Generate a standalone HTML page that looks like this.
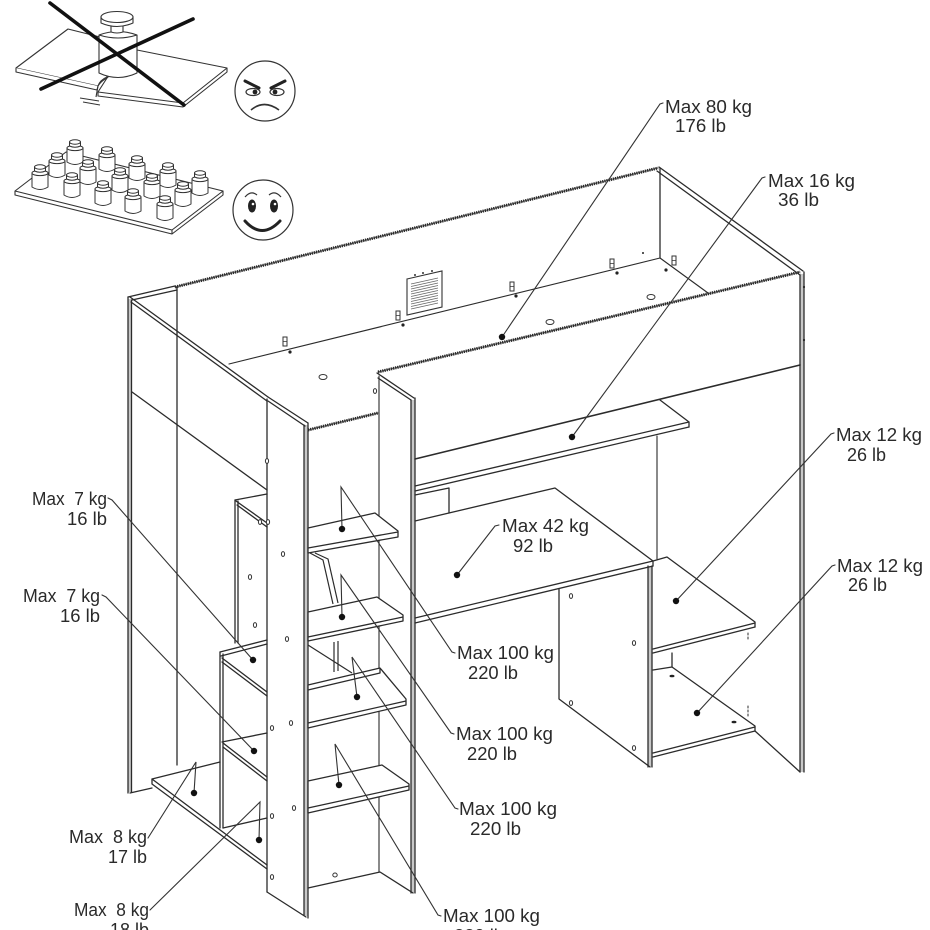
<!DOCTYPE html>
<html>
<head>
<meta charset="utf-8">
<style>
html,body{margin:0;padding:0;background:#fff;}
svg{display:block;}
text{font-family:"Liberation Sans",Arial,sans-serif;font-size:18px;fill:#2a2a2a;}
</style>
</head>
<body>
<svg width="930" height="930" viewBox="0 0 930 930" xmlns="http://www.w3.org/2000/svg">
<rect width="930" height="930" fill="#fff"/>

<!-- ===== Icon 1: overloaded sagging shelf ===== -->
<g fill="#fff" stroke="#333" stroke-width="1.1" stroke-linejoin="round">
  <path d="M16,68 L68,29 L104,38 L107,77 Q100,80 98,86 Z"/>
  <path d="M16,68 L16,72 L97,90 L98,86"/>
  <path d="M137,50 L227,68 L183,103 L98,92 L107,78 Z"/>
  <path d="M227,68 L227,72 L183,107 L98,96 L98,92" fill="none"/>
  <path d="M183,103 L183,107" fill="none"/>
  <path d="M98,86 L96,97" fill="none"/>
  <path d="M80,98 L99,101 M83,102 L100,105" fill="none"/>
  <!-- weight -->
  <path d="M99,35 Q118,28 137,35 L137,73 Q118,82 99,73 Z"/>
  <path d="M99,35 Q118,41 137,35" fill="none"/>
  <path d="M111,25 L111,32 Q117,34 123,32 L123,25 Z"/>
  <path d="M101,17 L101,23 Q117,30 133,23 L133,17"/>
  <ellipse cx="117" cy="17" rx="16" ry="5.5"/>
  <path d="M107,78 Q101,81 98,86" fill="none"/>
</g>
<g stroke="#111" stroke-width="3.6" stroke-linecap="round">
  <line x1="50" y1="3" x2="184" y2="105"/>
  <line x1="193" y1="19" x2="41" y2="89"/>
</g>
<!-- angry face -->
<g fill="none" stroke="#333" stroke-width="1.2">
  <circle cx="265" cy="91" r="30" fill="#fff"/>
  <ellipse cx="253" cy="92" rx="7" ry="3.5"/>
  <ellipse cx="277" cy="92" rx="7" ry="3.5"/>
  <path d="M251,110 Q264,99 279,110" stroke-width="1.6"/>
</g>
<g stroke="#222" stroke-width="3" stroke-linecap="round">
  <line x1="245" y1="81" x2="259" y2="88"/>
  <line x1="271" y1="88" x2="285" y2="81"/>
</g>
<circle cx="255" cy="92" r="2.4" fill="#222"/>
<circle cx="275" cy="92" r="2.4" fill="#222"/>

<!-- ===== Icon 2: evenly loaded shelf ===== -->
<g fill="#fff" stroke="#333" stroke-width="1.1" stroke-linejoin="round">
  <path d="M15,191 L66,152 L223,191 L172,230 Z"/>
  <path d="M15,191 L15,195 L172,234 L223,195 L223,191" fill="none"/>
  <path d="M172,230 L172,234" fill="none"/>
</g>
<g fill="#fff" stroke="#333" stroke-width="1">
  <g transform="translate(75,139)"><path d="M-8,9 L-8,23 Q0,28 8,23 L8,9 Z"/><ellipse cx="0" cy="9" rx="8" ry="2.6"/><path d="M-5.5,3 L-5.5,7 Q0,9.5 5.5,7 L5.5,3 Z"/><ellipse cx="0" cy="3" rx="5.5" ry="2.2"/></g>
  <g transform="translate(107,146)"><path d="M-8,9 L-8,23 Q0,28 8,23 L8,9 Z"/><ellipse cx="0" cy="9" rx="8" ry="2.6"/><path d="M-5.5,3 L-5.5,7 Q0,9.5 5.5,7 L5.5,3 Z"/><ellipse cx="0" cy="3" rx="5.5" ry="2.2"/></g>
  <g transform="translate(57,152)"><path d="M-8,9 L-8,23 Q0,28 8,23 L8,9 Z"/><ellipse cx="0" cy="9" rx="8" ry="2.6"/><path d="M-5.5,3 L-5.5,7 Q0,9.5 5.5,7 L5.5,3 Z"/><ellipse cx="0" cy="3" rx="5.5" ry="2.2"/></g>
  <g transform="translate(137,155)"><path d="M-8,9 L-8,23 Q0,28 8,23 L8,9 Z"/><ellipse cx="0" cy="9" rx="8" ry="2.6"/><path d="M-5.5,3 L-5.5,7 Q0,9.5 5.5,7 L5.5,3 Z"/><ellipse cx="0" cy="3" rx="5.5" ry="2.2"/></g>
  <g transform="translate(88,159)"><path d="M-8,9 L-8,23 Q0,28 8,23 L8,9 Z"/><ellipse cx="0" cy="9" rx="8" ry="2.6"/><path d="M-5.5,3 L-5.5,7 Q0,9.5 5.5,7 L5.5,3 Z"/><ellipse cx="0" cy="3" rx="5.5" ry="2.2"/></g>
  <g transform="translate(168,162)"><path d="M-8,9 L-8,23 Q0,28 8,23 L8,9 Z"/><ellipse cx="0" cy="9" rx="8" ry="2.6"/><path d="M-5.5,3 L-5.5,7 Q0,9.5 5.5,7 L5.5,3 Z"/><ellipse cx="0" cy="3" rx="5.5" ry="2.2"/></g>
  <g transform="translate(40,164)"><path d="M-8,9 L-8,23 Q0,28 8,23 L8,9 Z"/><ellipse cx="0" cy="9" rx="8" ry="2.6"/><path d="M-5.5,3 L-5.5,7 Q0,9.5 5.5,7 L5.5,3 Z"/><ellipse cx="0" cy="3" rx="5.5" ry="2.2"/></g>
  <g transform="translate(120,167)"><path d="M-8,9 L-8,23 Q0,28 8,23 L8,9 Z"/><ellipse cx="0" cy="9" rx="8" ry="2.6"/><path d="M-5.5,3 L-5.5,7 Q0,9.5 5.5,7 L5.5,3 Z"/><ellipse cx="0" cy="3" rx="5.5" ry="2.2"/></g>
  <g transform="translate(200,170)"><path d="M-8,9 L-8,23 Q0,28 8,23 L8,9 Z"/><ellipse cx="0" cy="9" rx="8" ry="2.6"/><path d="M-5.5,3 L-5.5,7 Q0,9.5 5.5,7 L5.5,3 Z"/><ellipse cx="0" cy="3" rx="5.5" ry="2.2"/></g>
  <g transform="translate(72,172)"><path d="M-8,9 L-8,23 Q0,28 8,23 L8,9 Z"/><ellipse cx="0" cy="9" rx="8" ry="2.6"/><path d="M-5.5,3 L-5.5,7 Q0,9.5 5.5,7 L5.5,3 Z"/><ellipse cx="0" cy="3" rx="5.5" ry="2.2"/></g>
  <g transform="translate(152,173)"><path d="M-8,9 L-8,23 Q0,28 8,23 L8,9 Z"/><ellipse cx="0" cy="9" rx="8" ry="2.6"/><path d="M-5.5,3 L-5.5,7 Q0,9.5 5.5,7 L5.5,3 Z"/><ellipse cx="0" cy="3" rx="5.5" ry="2.2"/></g>
  <g transform="translate(103,180)"><path d="M-8,9 L-8,23 Q0,28 8,23 L8,9 Z"/><ellipse cx="0" cy="9" rx="8" ry="2.6"/><path d="M-5.5,3 L-5.5,7 Q0,9.5 5.5,7 L5.5,3 Z"/><ellipse cx="0" cy="3" rx="5.5" ry="2.2"/></g>
  <g transform="translate(183,181)"><path d="M-8,9 L-8,23 Q0,28 8,23 L8,9 Z"/><ellipse cx="0" cy="9" rx="8" ry="2.6"/><path d="M-5.5,3 L-5.5,7 Q0,9.5 5.5,7 L5.5,3 Z"/><ellipse cx="0" cy="3" rx="5.5" ry="2.2"/></g>
  <g transform="translate(133,188)"><path d="M-8,9 L-8,23 Q0,28 8,23 L8,9 Z"/><ellipse cx="0" cy="9" rx="8" ry="2.6"/><path d="M-5.5,3 L-5.5,7 Q0,9.5 5.5,7 L5.5,3 Z"/><ellipse cx="0" cy="3" rx="5.5" ry="2.2"/></g>
  <g transform="translate(165,195)"><path d="M-8,9 L-8,23 Q0,28 8,23 L8,9 Z"/><ellipse cx="0" cy="9" rx="8" ry="2.6"/><path d="M-5.5,3 L-5.5,7 Q0,9.5 5.5,7 L5.5,3 Z"/><ellipse cx="0" cy="3" rx="5.5" ry="2.2"/></g>
</g>
<!-- happy face -->
<g fill="none" stroke="#333" stroke-width="1.2">
  <circle cx="263" cy="210" r="30" fill="#fff"/>
  <path d="M245,197 Q251,190 257,195"/>
  <path d="M269,195 Q275,190 281,197"/>
</g>
<ellipse cx="252" cy="206" rx="4" ry="6.5" fill="#222"/>
<ellipse cx="274" cy="206" rx="4" ry="6.5" fill="#222"/>
<circle cx="253" cy="204" r="1.3" fill="#fff"/>
<circle cx="275" cy="204" r="1.3" fill="#fff"/>
<path d="M245,221 Q262,240 280,221" fill="none" stroke="#222" stroke-width="3" stroke-linecap="round"/>

<!-- ===== Main furniture ===== -->
<!-- gray fills between double edges -->
<g fill="#c8c8c8" stroke="none">
  <rect x="128" y="299" width="3.5" height="493"/>
  <rect x="800" y="274" width="4" height="498"/>
  <rect x="304" y="425" width="4" height="491"/>
  <rect x="411" y="400" width="4" height="493"/>
  <rect x="648" y="566" width="4" height="201"/>
</g>
<g fill="none" stroke="#2b2b2b" stroke-width="1.3" stroke-linecap="round" stroke-linejoin="round">
  <!-- left end panel -->
  <line x1="128" y1="297" x2="128" y2="793"/>
  <line x1="131.5" y1="300" x2="131.5" y2="792"/>
  <path d="M128,297 L175,286"/>
  <path d="M132,300 L177,290"/>
  <path d="M130,297 L268,397"/>
  <path d="M131,302 L267,401"/>
  <line x1="177" y1="287" x2="177" y2="765"/>
  <path d="M132,392 L267,490"/>
  <path d="M130,793 L152,788"/>

  <!-- back / right end panel -->
  <line x1="175" y1="287" x2="658" y2="168" stroke="#555" stroke-width="1"/>
  <line x1="660" y1="168" x2="660" y2="258"/>
  <path d="M659,167 L803,271"/>
  <path d="M657,171 L800,275"/>
  <line x1="800" y1="275" x2="800" y2="772"/>
  <line x1="804" y1="272" x2="804" y2="772"/>

  <!-- deck -->
  <path d="M229,364 L660,258 L708,293" stroke-width="1.1"/>

  <!-- front rail -->
  <line x1="378" y1="372" x2="800" y2="272" stroke="#555" stroke-width="1"/>
  <path d="M415,459 L800,365" stroke-width="1.6"/>

  <!-- right upright -->
  <path d="M377,373 L414,398"/>
  <path d="M378,378 L411,400"/>
  <line x1="379" y1="376" x2="379" y2="872" stroke-width="1.1"/>
  <line x1="411" y1="400" x2="411" y2="893"/>
  <line x1="415" y1="398" x2="415" y2="893"/>
  <path d="M308,888 L380,872 L413,893"/>

  <!-- left post -->
  <path d="M268,397 L308,423"/>
  <path d="M268,401 L305,426"/>
  <line x1="267" y1="399" x2="267" y2="892"/>
  <line x1="304" y1="425" x2="304" y2="915"/>
  <line x1="308" y1="423" x2="308" y2="918"/>
  <path d="M267,892 L306,917"/>
  <line x1="308" y1="430" x2="378" y2="413" stroke="#555" stroke-width="1"/>

  <!-- shelf under bed -->
  <path d="M660,400 L689,422 L689,427"/>
  <path d="M415,486 L689,422"/>
  <path d="M415,491 L689,427"/>
  <path d="M415,495 L449,488 L449,513"/>
  <path d="M415,521 L555,488 L653,561 L653,566"/>
  <path d="M415,618 L653,561"/>
  <path d="M415,623 L653,566"/>
  <line x1="657" y1="436" x2="657" y2="559" stroke-width="1.1"/>

  <!-- pedestal -->
  <path d="M559,589 L559,699 L650,767"/>
  <line x1="648" y1="566" x2="648" y2="767"/>
  <line x1="652" y1="566" x2="652" y2="767"/>

  <!-- right shelves -->
  <path d="M653,561 L667,557 L755,622 L755,627"/>
  <path d="M653,649 L755,623"/>
  <path d="M653,653 L755,627"/>
  <path d="M653,670 L672,667 L672,653"/>
  <path d="M672,667 L755,726 L755,731"/>
  <path d="M653,753 L755,727"/>
  <path d="M653,757 L755,731"/>
  <path d="M755,731 L800,772"/>
  <path d="M748,633 L748,640 M748,706 L748,718" stroke-width="1" stroke-dasharray="2 2"/>

  <!-- upper storage side panel -->
  <line x1="235" y1="500" x2="235" y2="643"/>
  <line x1="238" y1="501" x2="238" y2="643"/>
  <path d="M235,500 L267,494"/>
  <path d="M236,501 L267,523"/>
  <path d="M237,505 L267,527"/>

  <!-- lower storage box -->
  <line x1="220" y1="652" x2="220" y2="828"/>
  <line x1="223" y1="654" x2="223" y2="828"/>
  <path d="M220,652 L267,640"/>
  <path d="M221,656 L267,644"/>
  <path d="M222,658 L267,692"/>
  <path d="M222,662 L267,696"/>
  <path d="M222,742 L267,733"/>
  <path d="M223,743 L267,777"/>
  <path d="M223,747 L267,781"/>
  <path d="M223,828 L267,818"/>

  <!-- bottom shelf -->
  <path d="M220,762 L152,779 L152,784 L267,869"/>
  <path d="M152,779 L267,865"/>
</g>

<!-- hatched top edges -->
<g fill="none" stroke="#2a2a2a" stroke-width="3" stroke-dasharray="1.3 0.9">
  <line x1="175" y1="287" x2="658" y2="168"/>
  <line x1="378" y1="372" x2="800" y2="272"/>
  <line x1="308" y1="430" x2="378" y2="413"/>
</g>

<!-- steps (white filled to occlude) -->
<g fill="#fff" stroke="#2b2b2b" stroke-width="1.3" stroke-linejoin="round">
  <path d="M308,528 L375,513 L398,531 L398,537 L308,553 Z"/>
  <path d="M308,548 L398,532" fill="none"/>
  <path d="M308,612 L377,597 L403,615 L403,621 L308,641 Z"/>
  <path d="M308,637 L403,617" fill="none"/>
  <path d="M308,685 L380,668 L406,699 L406,705 L308,728 Z"/>
  <path d="M308,690 L380,673 L380,668" fill="none"/>
  <path d="M308,723 L406,701" fill="none"/>
  <path d="M308,781 L382,765 L409,784 L409,790 L308,813 Z"/>
  <path d="M308,808 L409,786" fill="none"/>
</g>
<g fill="none" stroke="#2b2b2b" stroke-width="1.2">
  <path d="M310,553 L323,560 L333,604"/>
  <path d="M315,553 L328,559 L338,603"/>
  <line x1="334" y1="642" x2="334" y2="672"/>
  <line x1="338" y1="641" x2="338" y2="671"/>
  <path d="M308,645 L352,673"/>
</g>

<!-- back panel details -->
<g fill="#fff" stroke="#333" stroke-width="1.1">
  <path d="M407,279 L442,271 L442,307 L407,315 Z"/>
</g>
<g stroke="#666" stroke-width="0.8">
  <path d="M411,284 L438,278 M411,286.5 L438,280.5 M411,289 L438,283 M411,291.5 L438,285.5 M411,294 L438,288 M411,296.5 L438,290.5 M411,299 L438,293 M411,301.5 L438,295.5 M411,304 L438,298 M411,306.5 L438,300.5 M411,309 L438,303"/>
</g>
<g fill="#333">
  <circle cx="415" cy="275" r="1"/><circle cx="423" cy="273" r="1"/><circle cx="432" cy="271" r="1"/>
</g>
<!-- brackets -->
<g fill="#fff" stroke="#333" stroke-width="1">
  <rect x="283" y="337" width="4" height="9"/>
  <rect x="396" y="311" width="4" height="9"/>
  <rect x="510" y="282" width="4" height="9"/>
  <rect x="610" y="259" width="4" height="9"/>
  <rect x="672" y="256" width="4" height="9"/>
</g>
<g stroke="#333" stroke-width="0.8">
  <path d="M283,341.5 L287,341.5 M396,315.5 L400,315.5 M510,286.5 L514,286.5 M610,263.5 L614,263.5 M672,260.5 L676,260.5"/>
</g>
<g fill="#222">
  <circle cx="290" cy="352" r="1.6"/>
  <circle cx="403" cy="325" r="1.6"/>
  <circle cx="516" cy="296" r="1.6"/>
  <circle cx="617" cy="273" r="1.6"/>
  <circle cx="666" cy="270" r="1.6"/>
  <circle cx="643" cy="253" r="1"/>
  <circle cx="804" cy="287" r="1.1"/>
  <circle cx="804" cy="340" r="1.1"/>
</g>
<!-- holes -->
<g fill="#fff" stroke="#333" stroke-width="1">
  <ellipse cx="323" cy="377" rx="4" ry="2.5"/>
  <ellipse cx="550" cy="322" rx="4" ry="2.5"/>
  <ellipse cx="651" cy="297" rx="4" ry="2.5"/>
  <ellipse cx="375" cy="391" rx="1.6" ry="2.4"/>
  <ellipse cx="267" cy="461" rx="1.6" ry="2.4"/>
  <ellipse cx="283" cy="554" rx="1.6" ry="2.4"/>
  <ellipse cx="287" cy="639" rx="1.6" ry="2.4"/>
  <ellipse cx="272" cy="728" rx="1.6" ry="2.4"/>
  <ellipse cx="291" cy="723" rx="1.6" ry="2.4"/>
  <ellipse cx="272" cy="816" rx="1.6" ry="2.4"/>
  <ellipse cx="294" cy="808" rx="1.6" ry="2.4"/>
  <ellipse cx="272" cy="877" rx="1.6" ry="2.4"/>
  <ellipse cx="260" cy="522" rx="1.6" ry="2.4"/>
  <ellipse cx="268" cy="522" rx="1.6" ry="2.4"/>
  <ellipse cx="250" cy="577" rx="1.6" ry="2.4"/>
  <ellipse cx="255" cy="625" rx="1.6" ry="2.4"/>
  <ellipse cx="335" cy="875" rx="2.2" ry="2"/>
  <ellipse cx="571" cy="596" rx="1.6" ry="2.4"/>
  <ellipse cx="634" cy="643" rx="1.6" ry="2.4"/>
  <ellipse cx="571" cy="703" rx="1.6" ry="2.4"/>
  <ellipse cx="634" cy="748" rx="1.6" ry="2.4"/>
</g>
<g fill="#222">
  <ellipse cx="672" cy="676" rx="2.5" ry="1.3"/>
  <ellipse cx="734" cy="722" rx="2.5" ry="1.3"/>
</g>

<!-- ===== Leader lines ===== -->
<g fill="none" stroke="#333" stroke-width="1.1" stroke-linecap="round">
  <path d="M502,337 L660,104 L663,103"/>
  <path d="M572,437 L762,178 L765,177"/>
  <path d="M676,601 L831,434 L834,433"/>
  <path d="M697,713 L832,566 L835,565"/>
  <path d="M457,575 L495,526 L499,525"/>
  <path d="M342,529 L341,487 L452,652 L455,653"/>
  <path d="M342,617 L341,575 L451,733 L454,734"/>
  <path d="M357,697 L352,657 L455,808 L458,809"/>
  <path d="M339,785 L335,744 L438,915 L441,916"/>
  <path d="M108,498 L112,500 L253,660"/>
  <path d="M102,595 L106,597 L254,751"/>
  <path d="M148,838 L196,762 L194,793"/>
  <path d="M150,910 L260,802 L259,840"/>
</g>
<g fill="#111">
  <circle cx="502" cy="337" r="3.2"/>
  <circle cx="572" cy="437" r="3.2"/>
  <circle cx="457" cy="575" r="3.2"/>
  <circle cx="676" cy="601" r="3.2"/>
  <circle cx="697" cy="713" r="3.2"/>
  <circle cx="342" cy="529" r="3.2"/>
  <circle cx="342" cy="617" r="3.2"/>
  <circle cx="357" cy="697" r="3.2"/>
  <circle cx="339" cy="785" r="3.2"/>
  <circle cx="253" cy="660" r="3.2"/>
  <circle cx="254" cy="751" r="3.2"/>
  <circle cx="194" cy="793" r="3.2"/>
  <circle cx="259" cy="840" r="3.2"/>
</g>

<!-- ===== Labels ===== -->
<text x="665" y="113" textLength="87" lengthAdjust="spacingAndGlyphs">Max 80 kg</text>
<text x="675" y="132" textLength="51" lengthAdjust="spacingAndGlyphs">176 lb</text>
<text x="768" y="187" textLength="87" lengthAdjust="spacingAndGlyphs">Max 16 kg</text>
<text x="778" y="206" textLength="41" lengthAdjust="spacingAndGlyphs">36 lb</text>
<text x="836" y="441" textLength="86" lengthAdjust="spacingAndGlyphs">Max 12 kg</text>
<text x="847" y="461" textLength="39" lengthAdjust="spacingAndGlyphs">26 lb</text>
<text x="837" y="572" textLength="86" lengthAdjust="spacingAndGlyphs">Max 12 kg</text>
<text x="848" y="591" textLength="39" lengthAdjust="spacingAndGlyphs">26 lb</text>
<text x="502" y="532" textLength="87" lengthAdjust="spacingAndGlyphs">Max 42 kg</text>
<text x="513" y="552" textLength="40" lengthAdjust="spacingAndGlyphs">92 lb</text>
<text x="457" y="659" textLength="97" lengthAdjust="spacingAndGlyphs">Max 100 kg</text>
<text x="468" y="679" textLength="50" lengthAdjust="spacingAndGlyphs">220 lb</text>
<text x="456" y="740" textLength="97" lengthAdjust="spacingAndGlyphs">Max 100 kg</text>
<text x="467" y="760" textLength="50" lengthAdjust="spacingAndGlyphs">220 lb</text>
<text x="459" y="815" textLength="98" lengthAdjust="spacingAndGlyphs">Max 100 kg</text>
<text x="470" y="835" textLength="51" lengthAdjust="spacingAndGlyphs">220 lb</text>
<text x="443" y="922" textLength="97" lengthAdjust="spacingAndGlyphs">Max 100 kg</text>
<text x="454" y="942" textLength="50" lengthAdjust="spacingAndGlyphs">220 lb</text>
<text x="32" y="505" textLength="75" lengthAdjust="spacingAndGlyphs" xml:space="preserve">Max  7 kg</text>
<text x="67" y="525" textLength="40" lengthAdjust="spacingAndGlyphs">16 lb</text>
<text x="23" y="602" textLength="77" lengthAdjust="spacingAndGlyphs" xml:space="preserve">Max  7 kg</text>
<text x="60" y="622" textLength="40" lengthAdjust="spacingAndGlyphs">16 lb</text>
<text x="69" y="843" textLength="78" lengthAdjust="spacingAndGlyphs" xml:space="preserve">Max  8 kg</text>
<text x="108" y="863" textLength="39" lengthAdjust="spacingAndGlyphs">17 lb</text>
<text x="74" y="916" textLength="75" lengthAdjust="spacingAndGlyphs" xml:space="preserve">Max  8 kg</text>
<text x="110" y="936" textLength="39" lengthAdjust="spacingAndGlyphs">18 lb</text>
</svg>
</body>
</html>
